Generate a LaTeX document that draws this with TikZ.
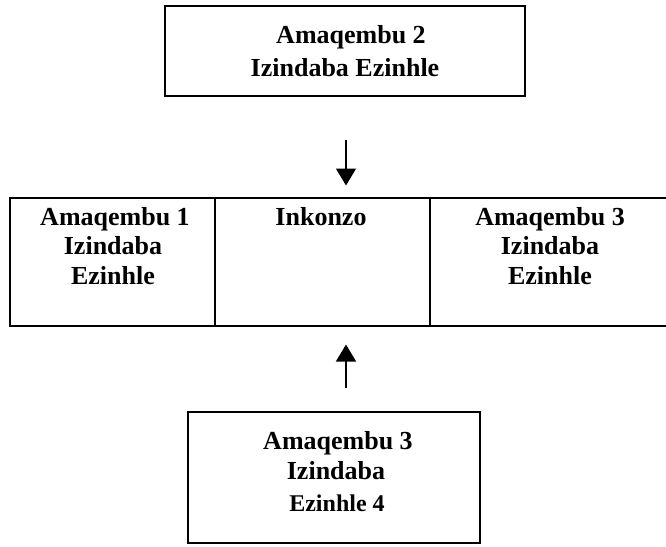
\documentclass[tikz,border=0pt]{standalone}
\usepackage{fontspec}
\setmainfont{Liberation Serif}
\usetikzlibrary{arrows.meta}
\begin{document}
\begin{tikzpicture}[x=1pt,y=-1pt,
  box/.style={draw,line width=2pt,minimum width=#1,inner sep=0pt},
  lbl/.style={anchor=base,font=\fontsize{26}{30}\bfseries\selectfont,inner sep=0pt},
  sml/.style={anchor=base,font=\fontsize{24}{28}\bfseries\selectfont,inner sep=0pt},
  arr/.style={line width=1.5pt,-{Triangle[length=17pt,width=20pt]}}]
\useasboundingbox (0,0) rectangle (666,546);
% boxes
\node[box=360pt,minimum height=90pt] (top) at (345,51) {};
\node[box=205pt,minimum height=128pt] (c1) at (112.5,262) {};
\node[box=215pt,minimum height=128pt] (c2) at (322.5,262) {};
\node[box=240pt,minimum height=128pt] (c3) at (550,262) {};
\node[box=292pt,minimum height=131pt] (bot) at (334,477.5) {};
% texts
\node[lbl] (t1) at (351,43) {Amaqembu 2};
\node[lbl] (t2) at (345,76) {Izindaba Ezinhle};
\node[lbl] (m1a) at (115,225) {Amaqembu 1};
\node[lbl] (m1b) at (113,254) {Izindaba};
\node[lbl] (m1c) at (113,284) {Ezinhle};
\node[lbl] (m2a) at (321,225) {Inkonzo};
\node[lbl] (m3a) at (550,225) {Amaqembu 3};
\node[lbl] (m3b) at (550,254) {Izindaba};
\node[lbl] (m3c) at (550,284) {Ezinhle};
\node[lbl] (b1) at (338,449) {Amaqembu 3};
\node[lbl] (b2) at (336,479) {Izindaba};
\node[sml] (b3) at (337,511) {Ezinhle 4};
% arrows
\coordinate (a1s) at (346,140);
\coordinate (a1e) at (346,185.5);
\coordinate (a2s) at (346,388);
\coordinate (a2e) at (346,344.5);
\draw[arr] (a1s) -- (a1e);
\draw[arr] (a2s) -- (a2e);
\end{tikzpicture}
\end{document}
